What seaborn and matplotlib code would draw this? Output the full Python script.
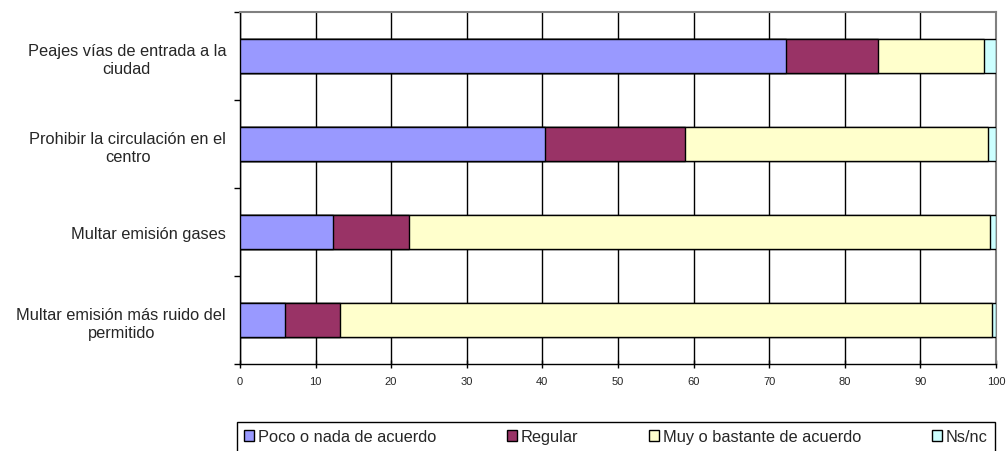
import matplotlib
matplotlib.use("Agg")
import matplotlib.pyplot as plt
from matplotlib.patches import Patch
import seaborn as sns
import pandas as pd

categories = [
    "Peajes vías de entrada a la\nciudad",
    "Prohibir la circulación en el\ncentro",
    "Multar emisión gases",
    "Multar emisión más ruido del\npermitido",
]
series_names = ["Poco o nada de acuerdo", "Regular", "Muy o bastante de acuerdo", "Ns/nc"]
poco = [72.2, 40.4, 12.3, 6.0]
regular = [12.2, 18.5, 10.1, 7.2]
muy = [14.0, 40.0, 76.8, 86.3]
nsnc = [1.6, 1.1, 0.8, 0.5]
colors = ["#9999FF", "#993366", "#FFFFCC", "#CCFFFF"]
x_ticks = list(range(0, 101, 10))

sns.set_theme(style="white")
plt.rcParams["font.family"] = ["Liberation Sans", "DejaVu Sans"]

df = pd.DataFrame({"categoria": categories, series_names[0]: poco,
                   series_names[1]: regular, series_names[2]: muy,
                   series_names[3]: nsnc})
cum = df[series_names].cumsum(axis=1)

fig = plt.figure(figsize=(10.08, 4.52), dpi=100)
ax = fig.add_axes([0.238, 0.1925, 0.750, 0.7785])

# Stacked bars: draw cumulative totals from the widest down
for name, col in reversed(list(zip(series_names, colors))):
    sns.barplot(x=cum[name], y=df["categoria"], orient="h", color=col,
                width=0.38, edgecolor="black", linewidth=1.0,
                saturation=1, ax=ax, zorder=3)

ax.set_xlim(0, 100)
ax.set_ylim(3.5, -0.5)
ax.set_xlabel("")
ax.set_ylabel("")

ax.set_xticks(x_ticks)
ax.set_xticklabels([str(t) for t in x_ticks], fontsize=8)
ax.tick_params(axis="x", direction="inout", length=6, width=1, color="black",
               pad=6, bottom=True)
ax.xaxis.grid(True, color="black", linewidth=1, zorder=0)
ax.set_axisbelow(True)

ax.set_yticks(range(len(categories)))
ax.set_yticklabels(categories, fontsize=11.8, ha="right", multialignment="center",
                   linespacing=1.3)
ax.tick_params(axis="y", which="major", length=0, pad=10)
ax.set_yticks([-0.5, 0.5, 1.5, 2.5, 3.5], minor=True)
ax.tick_params(axis="y", which="minor", direction="out", length=4, width=1,
               color="black", left=True)

for s in ["left", "bottom"]:
    ax.spines[s].set_color("black")
    ax.spines[s].set_linewidth(1)
for s in ["top", "right"]:
    ax.spines[s].set_color("#808080")
    ax.spines[s].set_linewidth(1.5)

handles = [Patch(facecolor=c, edgecolor="black", linewidth=1) for c in colors]
leg = fig.legend(handles, series_names, loc="upper center",
                 bbox_to_anchor=(0.611, 0.064),
                 ncol=4, frameon=True, fancybox=False, shadow=False,
                 framealpha=1, facecolor="white",
                 handlelength=0.6, handleheight=0.6, handletextpad=0.25,
                 columnspacing=4.3, borderaxespad=0, borderpad=0.45,
                 prop={"size": 11.8})
leg.get_frame().set_edgecolor("black")
leg.get_frame().set_linewidth(1)

fig.savefig("out.png", dpi=100)
